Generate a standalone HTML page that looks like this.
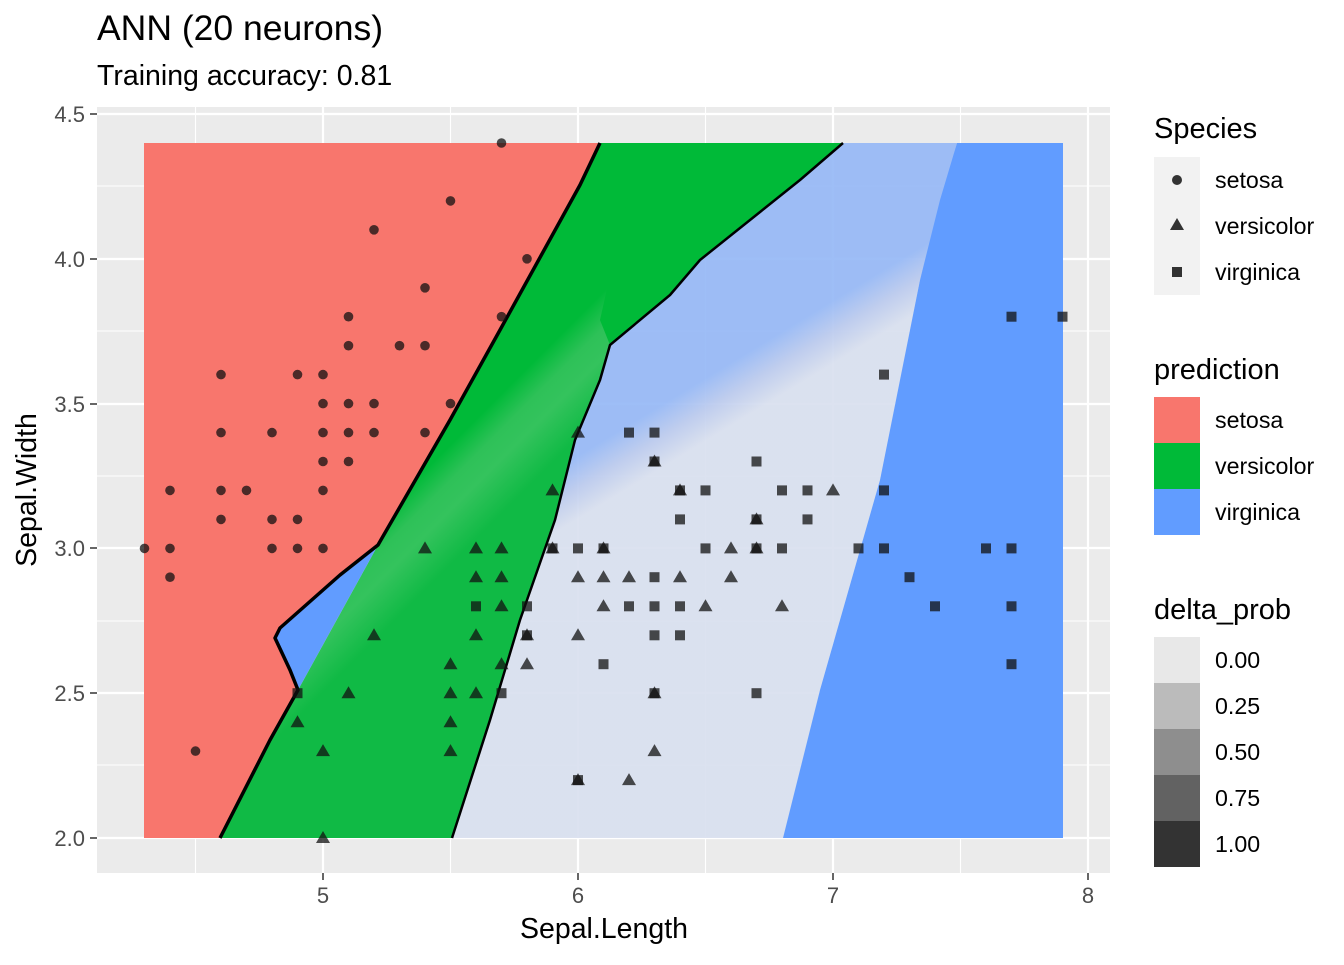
<!DOCTYPE html>
<html><head><meta charset="utf-8"><style>
body{margin:0;background:#fff;}
svg text{font-family:"Liberation Sans",sans-serif;}
</style></head><body>
<svg width="1344" height="960" xmlns="http://www.w3.org/2000/svg" xmlns:xlink="http://www.w3.org/1999/xlink">
<defs>
<linearGradient id="bg" gradientUnits="userSpaceOnUse" x1="736" y1="360" x2="764" y2="406">
<stop offset="0" stop-color="#97b9f6"/><stop offset="0.5" stop-color="#bccbee"/><stop offset="1" stop-color="#d9e0ef"/></linearGradient>
<linearGradient id="gg" gradientUnits="userSpaceOnUse" x1="440" y1="455" x2="500" y2="515">
<stop offset="0" stop-color="#00ba38"/><stop offset="0.3" stop-color="#2ec158"/><stop offset="0.55" stop-color="#34c35d"/><stop offset="1" stop-color="#10ba45"/></linearGradient>
<polygon id="t" points="0,-7 7,5 -7,5"/>
<rect id="s" x="-5" y="-5" width="10" height="10"/>
</defs>
<rect x="97" y="107" width="1013" height="766" fill="#ebebeb"/>
<g stroke="#fff" stroke-width="1.1">
<line x1="195.5" y1="107" x2="195.5" y2="873"/><line x1="450.5" y1="107" x2="450.5" y2="873"/><line x1="705.5" y1="107" x2="705.5" y2="873"/><line x1="960.5" y1="107" x2="960.5" y2="873"/>
<line x1="97" y1="186" x2="1110" y2="186"/><line x1="97" y1="331" x2="1110" y2="331"/><line x1="97" y1="476" x2="1110" y2="476"/><line x1="97" y1="621" x2="1110" y2="621"/><line x1="97" y1="765" x2="1110" y2="765"/>
</g>
<g stroke="#fff" stroke-width="2.2">
<line x1="323" y1="107" x2="323" y2="873"/><line x1="578" y1="107" x2="578" y2="873"/><line x1="833" y1="107" x2="833" y2="873"/><line x1="1088" y1="107" x2="1088" y2="873"/>
<line x1="97" y1="114" x2="1110" y2="114"/><line x1="97" y1="259" x2="1110" y2="259"/><line x1="97" y1="404" x2="1110" y2="404"/><line x1="97" y1="548" x2="1110" y2="548"/><line x1="97" y1="693" x2="1110" y2="693"/><line x1="97" y1="838" x2="1110" y2="838"/>
</g>
<polygon points="600,143 843,143 957,143 920,280 880,480 820,690 783,838 452,838" fill="url(#bg)" opacity="0.93"/>
<polygon points="957,143 1063,143 1063,838 783,838 820,690 880,480 920,280 940,200" fill="#619cff"/>
<polygon points="600,143 843,143 800,180 700,260 670,295 610,345 600,380 575,440 555,520 520,620 490,720 452,838 220,838 270,740 298,690 378,545 450,420 500,330 580,185" fill="url(#gg)"/>
<polygon points="640,143 843,143 800,180 700,260 670,295 610,345 600,320" fill="#00ba38"/>
<polygon points="144,143 600,143 580,185 500,330 450,420 378,545 340,575 280,628 275,638 290,670 298,690 270,740 220,838 144,838" fill="#f8766d"/>
<polygon points="378,545 340,575 280,628 275,638 290,670 298,690" fill="#619cff"/>
<g fill="none" stroke="#000" stroke-width="3.5" stroke-linejoin="round">
<polyline points="600,143 580,185 500,330 450,420 378,545 340,575 280,628 275,638 290,670 298,690 270,740 220,838"/>
</g>
<g fill="none" stroke="#000" stroke-width="2.5" stroke-linejoin="round">
<polyline points="843,143 800,180 700,260 670,295 610,345 600,380 575,440 555,520 520,620 490,720 452,838"/>
</g>
<g fill="#111" fill-opacity="0.75">
<circle cx="144.5" cy="548.4" r="4.8"/><circle cx="170" cy="490.4" r="4.8"/><circle cx="170" cy="548.4" r="4.8"/><circle cx="170" cy="577.2" r="4.8"/><circle cx="195.5" cy="751.1" r="4.8"/>
<circle cx="221" cy="374.6" r="4.8"/><circle cx="221" cy="432.6" r="4.8"/><circle cx="221" cy="490.4" r="4.8"/><circle cx="221" cy="519.4" r="4.8"/><circle cx="246.5" cy="490.4" r="4.8"/>
<circle cx="272" cy="432.6" r="4.8"/><circle cx="272" cy="548.4" r="4.8"/><circle cx="272" cy="519.4" r="4.8"/><circle cx="297.5" cy="374.6" r="4.8"/><circle cx="297.5" cy="519.4" r="4.8"/><circle cx="297.5" cy="548.4" r="4.8"/>
<circle cx="323" cy="374.6" r="4.8"/><circle cx="323" cy="403.6" r="4.8"/><circle cx="323" cy="432.6" r="4.8"/><circle cx="323" cy="461.5" r="4.8"/><circle cx="323" cy="490.4" r="4.8"/><circle cx="323" cy="548.4" r="4.8"/>
<circle cx="348.5" cy="316.7" r="4.8"/><circle cx="348.5" cy="403.6" r="4.8"/><circle cx="348.5" cy="345.7" r="4.8"/><circle cx="348.5" cy="432.6" r="4.8"/><circle cx="348.5" cy="461.5" r="4.8"/>
<circle cx="374" cy="229.8" r="4.8"/><circle cx="374" cy="403.6" r="4.8"/><circle cx="374" cy="432.6" r="4.8"/><circle cx="399.5" cy="345.7" r="4.8"/>
<circle cx="425" cy="287.8" r="4.8"/><circle cx="425" cy="345.7" r="4.8"/><circle cx="425" cy="432.6" r="4.8"/><circle cx="450.5" cy="200.9" r="4.8"/><circle cx="450.5" cy="403.6" r="4.8"/>
<circle cx="501.5" cy="143" r="4.8"/><circle cx="501.5" cy="316.7" r="4.8"/><circle cx="527" cy="258.8" r="4.8"/>
<use xlink:href="#t" x="297.5" y="722.2"/><use xlink:href="#t" x="323" y="838"/><use xlink:href="#t" x="323" y="751.1"/><use xlink:href="#t" x="348.5" y="693.2"/><use xlink:href="#t" x="374" y="635.3"/><use xlink:href="#t" x="425" y="548.4"/>
<use xlink:href="#t" x="450.5" y="751.1"/><use xlink:href="#t" x="450.5" y="722.2"/><use xlink:href="#t" x="450.5" y="693.2"/><use xlink:href="#t" x="450.5" y="664.2"/>
<use xlink:href="#t" x="476" y="548.4"/><use xlink:href="#t" x="476" y="577.2"/><use xlink:href="#t" x="476" y="635.3"/><use xlink:href="#t" x="476" y="693.2"/>
<use xlink:href="#t" x="501.5" y="548.4"/><use xlink:href="#t" x="501.5" y="577.2"/><use xlink:href="#t" x="501.5" y="606.3"/><use xlink:href="#t" x="501.5" y="664.2"/>
<use xlink:href="#t" x="527" y="635.3"/><use xlink:href="#t" x="527" y="664.2"/><use xlink:href="#t" x="552.5" y="490.4"/><use xlink:href="#t" x="552.5" y="548.4"/>
<use xlink:href="#t" x="578" y="432.6"/><use xlink:href="#t" x="578" y="577.2"/><use xlink:href="#t" x="578" y="635.3"/><use xlink:href="#t" x="578" y="780.1"/>
<use xlink:href="#t" x="603.5" y="548.4"/><use xlink:href="#t" x="603.5" y="577.2"/><use xlink:href="#t" x="603.5" y="606.3"/><use xlink:href="#t" x="629" y="577.2"/><use xlink:href="#t" x="629" y="780.1"/>
<use xlink:href="#t" x="654.5" y="461.5"/><use xlink:href="#t" x="654.5" y="693.2"/><use xlink:href="#t" x="654.5" y="751.1"/><use xlink:href="#t" x="680" y="490.4"/><use xlink:href="#t" x="680" y="577.2"/>
<use xlink:href="#t" x="705.5" y="606.3"/><use xlink:href="#t" x="731" y="548.4"/><use xlink:href="#t" x="731" y="577.2"/><use xlink:href="#t" x="756.5" y="519.4"/><use xlink:href="#t" x="756.5" y="548.4"/><use xlink:href="#t" x="782" y="606.3"/><use xlink:href="#t" x="833" y="490.4"/>
<use xlink:href="#s" x="297.5" y="693.2"/><use xlink:href="#s" x="476" y="606.3"/><use xlink:href="#s" x="501.5" y="693.2"/><use xlink:href="#s" x="527" y="606.3"/><use xlink:href="#s" x="527" y="635.3"/>
<use xlink:href="#s" x="552.5" y="548.4"/><use xlink:href="#s" x="578" y="548.4"/><use xlink:href="#s" x="578" y="780.1"/><use xlink:href="#s" x="603.5" y="548.4"/><use xlink:href="#s" x="603.5" y="664.2"/>
<use xlink:href="#s" x="629" y="432.6"/><use xlink:href="#s" x="629" y="606.3"/><use xlink:href="#s" x="654.5" y="432.6"/><use xlink:href="#s" x="654.5" y="461.5"/><use xlink:href="#s" x="654.5" y="577.2"/><use xlink:href="#s" x="654.5" y="606.3"/><use xlink:href="#s" x="654.5" y="635.3"/><use xlink:href="#s" x="654.5" y="693.2"/>
<use xlink:href="#s" x="680" y="490.4"/><use xlink:href="#s" x="680" y="519.4"/><use xlink:href="#s" x="680" y="606.3"/><use xlink:href="#s" x="680" y="635.3"/><use xlink:href="#s" x="705.5" y="490.4"/><use xlink:href="#s" x="705.5" y="548.4"/>
<use xlink:href="#s" x="756.5" y="461.5"/><use xlink:href="#s" x="756.5" y="519.4"/><use xlink:href="#s" x="756.5" y="548.4"/><use xlink:href="#s" x="756.5" y="693.2"/><use xlink:href="#s" x="782" y="490.4"/><use xlink:href="#s" x="782" y="548.4"/>
<use xlink:href="#s" x="807.5" y="490.4"/><use xlink:href="#s" x="807.5" y="519.4"/><use xlink:href="#s" x="858.5" y="548.4"/><use xlink:href="#s" x="884" y="374.6"/><use xlink:href="#s" x="884" y="490.4"/><use xlink:href="#s" x="884" y="548.4"/>
<use xlink:href="#s" x="909.5" y="577.2"/><use xlink:href="#s" x="935" y="606.3"/><use xlink:href="#s" x="986" y="548.4"/><use xlink:href="#s" x="1011.5" y="316.7"/><use xlink:href="#s" x="1011.5" y="548.4"/><use xlink:href="#s" x="1011.5" y="606.3"/><use xlink:href="#s" x="1011.5" y="664.2"/><use xlink:href="#s" x="1062.5" y="316.7"/>
</g>
<g stroke="#333" stroke-width="1.5">
<line x1="90" y1="114" x2="97" y2="114"/><line x1="90" y1="259" x2="97" y2="259"/><line x1="90" y1="404" x2="97" y2="404"/><line x1="90" y1="548" x2="97" y2="548"/><line x1="90" y1="693" x2="97" y2="693"/><line x1="90" y1="838" x2="97" y2="838"/>
<line x1="323" y1="873" x2="323" y2="880"/><line x1="578" y1="873" x2="578" y2="880"/><line x1="833" y1="873" x2="833" y2="880"/><line x1="1088" y1="873" x2="1088" y2="880"/>
</g>
<g fill="#4d4d4d" font-size="22" text-anchor="end">
<text x="85" y="122">4.5</text><text x="85" y="267">4.0</text><text x="85" y="412">3.5</text><text x="85" y="556">3.0</text><text x="85" y="701">2.5</text><text x="85" y="846">2.0</text>
</g>
<g fill="#4d4d4d" font-size="22" text-anchor="middle">
<text x="323" y="903">5</text><text x="578" y="903">6</text><text x="833" y="903">7</text><text x="1088" y="903">8</text>
</g>
<text x="604" y="938" font-size="28.5" text-anchor="middle" fill="#000">Sepal.Length</text>
<text transform="translate(36,490) rotate(-90)" font-size="28.5" text-anchor="middle" fill="#000">Sepal.Width</text>
<text x="97" y="40" font-size="35.5" fill="#000">ANN (20 neurons)</text>
<text x="97" y="85" font-size="28.5" fill="#000">Training accuracy: 0.81</text>
<g font-size="29" fill="#000"><text x="1154" y="138">Species</text><text x="1154" y="379">prediction</text><text x="1154" y="619">delta_prob</text></g>
<rect x="1154" y="157" width="46" height="138" fill="#f2f2f2"/>
<circle cx="1177" cy="180" r="5" fill="#333"/>
<polygon points="1177,218 1184,230 1170,230" fill="#333"/>
<rect x="1172" y="267" width="10" height="10" fill="#333"/>
<rect x="1154" y="397" width="46" height="46" fill="#f8766d"/>
<rect x="1154" y="443" width="46" height="46" fill="#00ba38"/>
<rect x="1154" y="489" width="46" height="46" fill="#619cff"/>
<rect x="1154" y="637" width="46" height="46" fill="#e8e8e8"/>
<rect x="1154" y="683" width="46" height="46" fill="#bbbbbb"/>
<rect x="1154" y="729" width="46" height="46" fill="#8e8e8e"/>
<rect x="1154" y="775" width="46" height="46" fill="#626262"/>
<rect x="1154" y="821" width="46" height="46" fill="#333333"/>
<g font-size="23.2" fill="#000">
<text x="1215" y="188">setosa</text><text x="1215" y="234">versicolor</text><text x="1215" y="280">virginica</text>
<text x="1215" y="428">setosa</text><text x="1215" y="474">versicolor</text><text x="1215" y="520">virginica</text>
<text x="1215" y="668">0.00</text><text x="1215" y="714">0.25</text><text x="1215" y="760">0.50</text><text x="1215" y="806">0.75</text><text x="1215" y="852">1.00</text>
</g>
</svg>
</body></html>
